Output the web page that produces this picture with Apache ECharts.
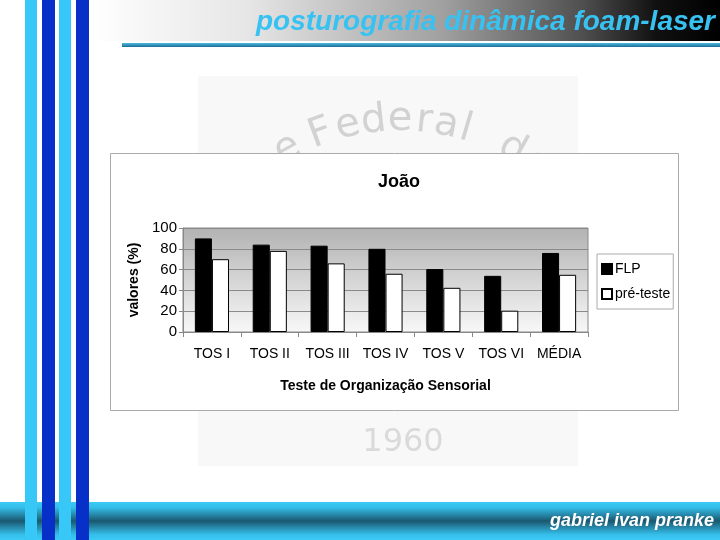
<!DOCTYPE html>
<html>
<head>
<meta charset="utf-8">
<script src="https://cdn.jsdelivr.net/npm/echarts@6/dist/echarts.min.js"></script>
<style>html,body{margin:0;padding:0;background:#fff}#c{width:720px;height:540px}</style>
</head>
<body>
<div id="c"></div>
<script>
const categories = ['TOS I', 'TOS II', 'TOS III', 'TOS IV', 'TOS V', 'TOS VI', 'MÉDIA'];
const flp = [90, 84, 83, 80, 60.5, 54, 76];
const preTeste = [70, 78, 66, 56, 42.5, 20.5, 55];
const yTicks = [0, 20, 40, 60, 80, 100];

const chart = echarts.init(document.getElementById('c'));
const F = 'Liberation Sans, Arial, sans-serif';

// watermark arc letters
const wmLetters = [['e',-29],['F',-20],['e',-13],['d',-6.5],['e',0],['r',6],['a',11.5],['l',16.5],['d',29],['e',36]];
const wmCx = 400, wmCy = 352, wmR = 232;
const wmEls = wmLetters.map(([ch, a]) => {
  const r = a * Math.PI / 180;
  return {
    type: 'text', z: -15,
    x: wmCx + wmR * Math.sin(r), y: wmCy - wmR * Math.cos(r),
    rotation: -r,
    style: { text: ch, font: '40px "DejaVu Sans", sans-serif', fill: '#d2d2d2', align: 'center', verticalAlign: 'middle' }
  };
});

const stripes = [[25,12,'#38c8f8'],[42,13,'#0730c8'],[59,12,'#38c8f8'],[76,13,'#0730c8']].map(([x,w,c]) => ({
  type: 'rect', z: 50, shape: { x: x, y: 0, width: w, height: 540 }, style: { fill: c }
}));

const option = {
  animation: false,
  backgroundColor: '#fff',
  title: {
    text: 'João', left: 394, top: 168, textAlign: 'center',
    textStyle: { fontFamily: F, fontSize: 18, fontWeight: 'bold', color: '#000' }
  },
  legend: {
    orient: 'vertical', left: 597, top: 254,
    itemWidth: 10, itemHeight: 10, itemGap: 11,
    padding: [8, 3, 8, 4],
    borderColor: '#aaa', borderWidth: 1, backgroundColor: '#fff',
    icon: 'rect',
    textStyle: { fontFamily: F, fontSize: 14, color: '#000', padding: [0, 0, 0, -2] },
    data: ['FLP', 'pré-teste']
  },
  grid: {
    left: 183, right: 132, top: 228, bottom: 208,
    show: true, borderColor: '#888', borderWidth: 1,
    backgroundColor: new echarts.graphic.LinearGradient(0, 0, 0, 1, [
      { offset: 0, color: '#b2b2b2' }, { offset: 1, color: '#f8f8f8' }
    ])
  },
  xAxis: {
    type: 'category', data: categories,
    name: 'Teste de Organização Sensorial', nameLocation: 'middle', nameGap: 47,
    nameTextStyle: { fontFamily: F, fontSize: 14, fontWeight: 'bold', color: '#000' },
    axisLine: { lineStyle: { color: '#888' } },
    axisTick: { show: true, length: 5, lineStyle: { color: '#888' } },
    axisLabel: { fontFamily: F, fontSize: 14, color: '#000', margin: 15, interval: 0 }
  },
  yAxis: {
    type: 'value', min: 0, max: 100, interval: 20,
    name: 'valores (%)', nameLocation: 'middle', nameGap: 40,
    nameTextStyle: { fontFamily: F, fontSize: 14, fontWeight: 'bold', color: '#000' },
    axisLine: { show: true, lineStyle: { color: '#888' } },
    axisTick: { show: true, length: 4, lineStyle: { color: '#888' } },
    axisLabel: { fontFamily: F, fontSize: 15, color: '#000', margin: 6,
      formatter: v => yTicks.includes(v) ? String(v) : '' },
    splitLine: { lineStyle: { color: '#8a8a8a', width: 1 } }
  },
  series: [
    { name: 'FLP', type: 'bar', data: flp, barGap: '0%', barCategoryGap: '41%',
      itemStyle: { color: '#000', borderColor: '#000', borderWidth: 1 } },
    { name: 'pré-teste', type: 'bar', data: preTeste,
      itemStyle: { color: '#fff', borderColor: '#000', borderWidth: 1 } }
  ],
  graphic: [
    // watermark
    { type: 'rect', z: -20, shape: { x: 198, y: 76, width: 380, height: 390 }, style: { fill: '#f8f8f8' } },
    ...wmEls,
    { type: 'text', z: -15, x: 403, y: 443, style: { text: '1960', font: '32px "DejaVu Sans", sans-serif', fill: '#dadada', align: 'center', verticalAlign: 'middle' } },
    // chart frame
    { type: 'rect', z: -10, shape: { x: 110.5, y: 153.5, width: 568, height: 257 }, style: { fill: '#fff', stroke: '#aaa', lineWidth: 1 } },
    // header band
    { type: 'rect', z: 10, shape: { x: 90, y: 0, width: 630, height: 41 },
      style: { fill: new echarts.graphic.LinearGradient(0, 0, 1, 0, [
        { offset: 0, color: '#ffffff' }, { offset: 0.25, color: '#e6e6e6' }, { offset: 0.56, color: '#a0a0a0' },
        { offset: 0.78, color: '#505050' }, { offset: 0.9, color: '#101010' }, { offset: 1, color: '#000000' }]) } },
    { type: 'rect', z: 11, shape: { x: 122, y: 43, width: 598, height: 4 },
      style: { fill: new echarts.graphic.LinearGradient(0, 0, 0, 1, [
        { offset: 0, color: '#4fb8e0' }, { offset: 1, color: '#1a6e94' }]) } },
    { type: 'text', z: 12, x: 715, y: 22,
      style: { text: 'posturografia dinâmica foam-laser', font: 'italic bold 28px "Liberation Sans", Arial, sans-serif',
        fill: '#38c2f2', align: 'right', verticalAlign: 'middle',
        shadowColor: 'rgba(0,0,0,0.6)', shadowOffsetX: 1, shadowOffsetY: 1, shadowBlur: 1 } },
    // footer bar
    { type: 'rect', z: 10, shape: { x: 0, y: 502, width: 720, height: 38 },
      style: { fill: new echarts.graphic.LinearGradient(0, 0, 0, 1, [
        { offset: 0, color: '#3ccaf6' }, { offset: 0.15, color: '#34bde8' }, { offset: 0.5, color: '#1a5870' },
        { offset: 0.85, color: '#34bde8' }, { offset: 1, color: '#3ccaf6' }]) } },
    { type: 'text', z: 12, x: 714, y: 521,
      style: { text: 'gabriel ivan pranke', font: 'italic bold 18px "Liberation Sans", Arial, sans-serif',
        fill: '#ffffff', align: 'right', verticalAlign: 'middle',
        shadowColor: 'rgba(0,0,0,0.5)', shadowOffsetX: 1, shadowOffsetY: 1, shadowBlur: 1 } },
    ...stripes
  ]
};
chart.setOption(option);
</script>
</body>
</html>
